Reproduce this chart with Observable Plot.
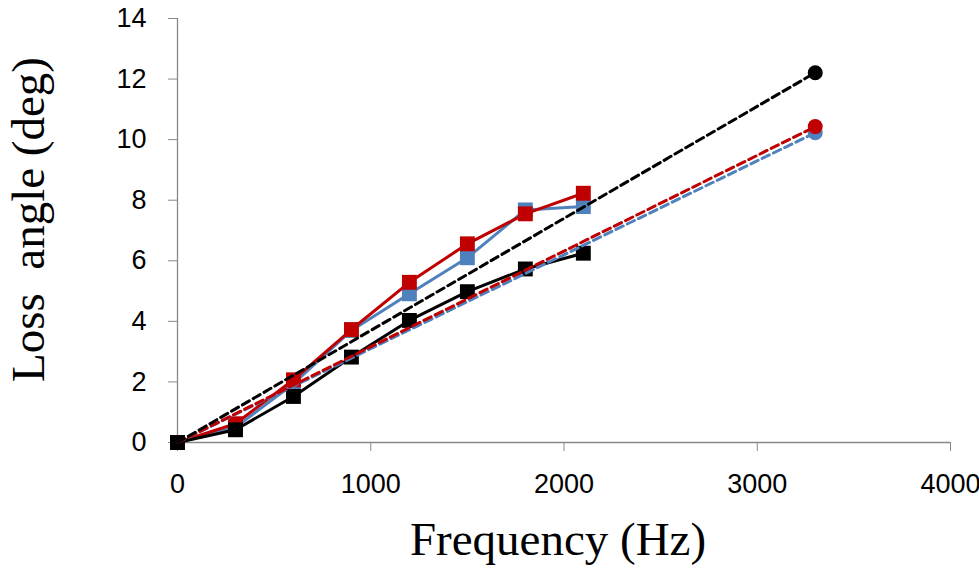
<!DOCTYPE html>
<html>
<head>
<meta charset="utf-8">
<script src="https://cdn.jsdelivr.net/npm/d3@7"></script>
<script src="https://cdn.jsdelivr.net/npm/@observablehq/plot@0.6"></script>
<style>
  html, body { margin: 0; padding: 0; background: #fff; }
</style>
</head>
<body>
<div id="chart"></div>
<script>
// Measured series (squares, solid lines)
const frequency = [0, 300, 600, 900, 1200, 1500, 1800, 2100];
const blueMeasured  = [0, 0.50, 1.94, 3.70, 4.91, 6.10, 7.68, 7.79];
const redMeasured   = [0, 0.62, 2.07, 3.73, 5.29, 6.56, 7.55, 8.23];
const blackMeasured = [0, 0.42, 1.52, 2.82, 4.03, 4.98, 5.73, 6.25];

// Fitted / extrapolated series (dashed lines, circle at end)
const fitFrequency = [0, 3300];
const blueFit  = [0, 10.23];
const redFit   = [0, 10.43];
const blackFit = [0, 12.21];

const xTicks = [0, 1000, 2000, 3000, 4000];
const yTicks = [0, 2, 4, 6, 8, 10, 12, 14];
const xTitle = "Frequency (Hz)";
const yTitle = "Loss\u00a0 angle (deg)";

const seriesColors = {blue: "#4F81BD", red: "#C00000", black: "#000000"};

const toRows = (xs, ys, key) => xs.map((x, i) => ({x, y: ys[i], key}));

const measured = {
  blue: toRows(frequency, blueMeasured, "blue"),
  red: toRows(frequency, redMeasured, "red"),
  black: toRows(frequency, blackMeasured, "black")
};
const fits = {
  blue: toRows(fitFrequency, blueFit, "blue"),
  red: toRows(fitFrequency, redFit, "red"),
  black: toRows(fitFrequency, blackFit, "black")
};

const marks = [
  Plot.ruleX([0], {y1: 0, y2: 14, stroke: "#888", strokeWidth: 1.3}),
  Plot.ruleY([0], {x1: 0, x2: 4000, stroke: "#888", strokeWidth: 1.3}),
  Plot.axisX(xTicks, {tickSize: 9, tickPadding: 22, stroke: "#888", fill: "#000", tickFormat: d => String(d), fontSize: 27, label: null}),
  Plot.axisY(yTicks, {tickSize: 9, tickPadding: 22, stroke: "#888", fill: "#000", tickFormat: d => String(d), fontSize: 27, label: null})
];

for (const k of ["blue", "red", "black"]) {
  marks.push(Plot.line(measured[k], {x: "x", y: "y", stroke: seriesColors[k], strokeWidth: 3}));
  marks.push(Plot.dot(measured[k], {x: "x", y: "y", symbol: "square", r: 8.4, fill: seriesColors[k], stroke: "none"}));
}
for (const k of ["blue", "red", "black"]) {
  marks.push(Plot.line(fits[k], {x: "x", y: "y", stroke: seriesColors[k], strokeWidth: 3, strokeDasharray: "8,4.5"}));
  marks.push(Plot.dot(fits[k].slice(-1), {x: "x", y: "y", symbol: "circle", r: 7.5, fill: seriesColors[k], stroke: "none"}));
}

marks.push(Plot.text([xTitle], {frameAnchor: "bottom", text: d => d, textAnchor: "middle", dx: -6, dy: 97, fontSize: 47, fontFamily: "Liberation Serif", fill: "#000", lineAnchor: "middle"}));
marks.push(Plot.text([yTitle], {frameAnchor: "left", text: d => d, textAnchor: "middle", dx: -149, dy: -11, rotate: -90, fontSize: 47, fontFamily: "Liberation Serif", fill: "#000", lineAnchor: "middle"}));

const chart = Plot.plot({
  width: 979,
  height: 571,
  marginLeft: 177,
  marginRight: 29,
  marginTop: 18,
  marginBottom: 129,
  style: {fontFamily: "Liberation Sans", fontSize: "27px", background: "#fff", overflow: "visible"},
  x: {domain: [0, 4000], axis: null, label: null},
  y: {domain: [0, 14], axis: null, label: null},
  marks
});
document.getElementById("chart").appendChild(chart);
</script>
</body>
</html>
